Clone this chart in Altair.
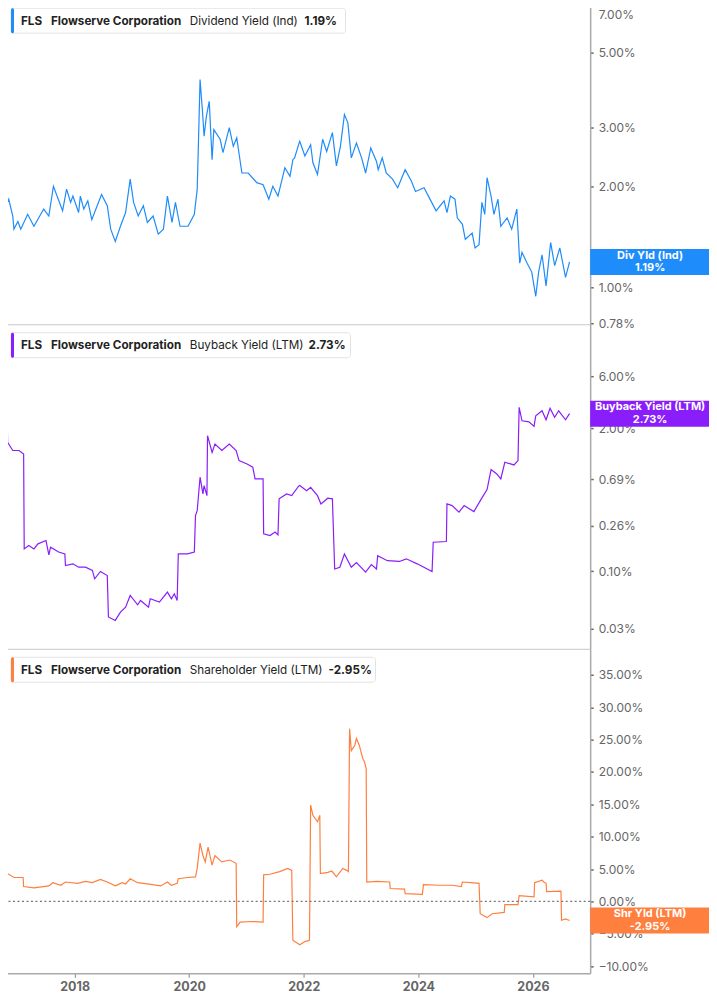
import altair as alt
import pandas as pd

FONT = "Inter"

# ---------------- data ----------------
# Dividend Yield (Ind), %
div_t = [2016.71, 2016.80, 2016.85, 2016.92, 2016.94, 2017.01, 2017.06, 2017.18, 2017.29, 2017.46,
         2017.55, 2017.63, 2017.79, 2017.86, 2017.93, 2017.97, 2018.07, 2018.10, 2018.16, 2018.23,
         2018.30, 2018.47, 2018.57, 2018.63, 2018.71, 2018.80, 2018.89, 2018.97, 2019.03, 2019.11,
         2019.20, 2019.27, 2019.37, 2019.46, 2019.55, 2019.62, 2019.70, 2019.76, 2019.84, 2019.98,
         2020.09, 2020.14, 2020.16, 2020.19, 2020.23, 2020.26, 2020.30, 2020.35, 2020.40, 2020.43,
         2020.54, 2020.59, 2020.70, 2020.77, 2020.83, 2020.92, 2021.03, 2021.18, 2021.29, 2021.39,
         2021.46, 2021.55, 2021.67, 2021.76, 2021.81, 2021.84, 2021.91, 2021.93, 2022.02, 2022.12,
         2022.16, 2022.24, 2022.33, 2022.40, 2022.50, 2022.57, 2022.64, 2022.71, 2022.77, 2022.83,
         2022.92, 2023.01, 2023.08, 2023.17, 2023.27, 2023.30, 2023.37, 2023.44, 2023.55, 2023.64,
         2023.77, 2023.88, 2023.95, 2024.10, 2024.19, 2024.31, 2024.45, 2024.50, 2024.56, 2024.64,
         2024.68, 2024.77, 2024.82, 2024.94, 2024.99, 2025.06, 2025.11, 2025.16, 2025.20, 2025.27,
         2025.32, 2025.39, 2025.44, 2025.55, 2025.63, 2025.72, 2025.77, 2025.81, 2025.90, 2025.98,
         2026.05, 2026.10, 2026.16, 2026.23, 2026.31, 2026.38, 2026.47, 2026.57, 2026.64]
div_v = [1.63, 1.75, 1.83, 1.63, 1.49, 1.57, 1.49, 1.65, 1.52, 1.71,
         1.63, 2.00, 1.69, 1.96, 1.79, 1.87, 1.67, 1.87, 1.71, 1.81,
         1.59, 1.89, 1.75, 1.49, 1.37, 1.52, 1.67, 2.10, 1.79, 1.63,
         1.75, 1.56, 1.63, 1.44, 1.49, 1.87, 1.56, 1.79, 1.52, 1.52,
         1.65, 1.96, 2.63, 4.16, 3.38, 2.82, 3.23, 3.58, 2.40, 2.95,
         2.76, 2.52, 2.99, 2.63, 2.79, 2.19, 2.19, 2.05, 2.02, 1.83,
         2.00, 1.87, 2.27, 2.14, 2.40, 2.43, 2.66, 2.72, 2.46, 2.66,
         2.35, 2.17, 2.76, 2.54, 2.89, 2.30, 2.63, 3.27, 3.09, 2.43,
         2.69, 2.43, 2.19, 2.60, 2.37, 2.24, 2.43, 2.19, 2.10, 1.98,
         2.24, 2.07, 1.93, 1.98, 1.85, 1.69, 1.81, 1.67, 1.87, 1.83,
         1.61, 1.54, 1.39, 1.45, 1.31, 1.34, 1.79, 1.65, 2.12, 1.87,
         1.65, 1.83, 1.52, 1.61, 1.49, 1.71, 1.18, 1.27, 1.18, 1.11,
         0.94, 1.11, 1.25, 1.01, 1.36, 1.16, 1.31, 1.07, 1.19]

# Buyback Yield (LTM), %
bb_t = [2016.71, 2016.78, 2016.82, 2016.83, 2016.92, 2017.03, 2017.11, 2017.12, 2017.20, 2017.29,
        2017.36, 2017.50, 2017.55, 2017.58, 2017.72, 2017.83, 2017.84, 2017.97, 2018.07, 2018.19,
        2018.31, 2018.35, 2018.45, 2018.57, 2018.59, 2018.71, 2018.80, 2018.89, 2018.97, 2019.10,
        2019.15, 2019.29, 2019.32, 2019.48, 2019.62, 2019.69, 2019.74, 2019.79, 2019.81, 2019.97,
        2020.09, 2020.11, 2020.14, 2020.19, 2020.24, 2020.26, 2020.31, 2020.32, 2020.40, 2020.45,
        2020.57, 2020.70, 2020.82, 2020.87, 2021.01, 2021.11, 2021.15, 2021.29, 2021.30, 2021.41,
        2021.50, 2021.55, 2021.57, 2021.70, 2021.79, 2021.91, 2021.93, 2022.05, 2022.12, 2022.24,
        2022.30, 2022.42, 2022.50, 2022.54, 2022.63, 2022.71, 2022.83, 2022.92, 2023.08, 2023.18,
        2023.27, 2023.29, 2023.46, 2023.67, 2023.79, 2023.98, 2024.24, 2024.26, 2024.49, 2024.50,
        2024.59, 2024.71, 2024.80, 2024.97, 2025.10, 2025.20, 2025.27, 2025.37, 2025.44, 2025.51,
        2025.67, 2025.74, 2025.76, 2025.81, 2025.93, 2026.02, 2026.05, 2026.16, 2026.23, 2026.30,
        2026.38, 2026.45, 2026.57, 2026.64]
bb_v = [3.01, 3.27, 3.27, 1.50, 1.26, 1.26, 1.17, 0.160, 0.172, 0.160,
        0.178, 0.191, 0.141, 0.166, 0.150, 0.144, 0.113, 0.117, 0.109, 0.109,
        0.102, 0.0855, 0.0997, 0.0916, 0.0384, 0.0357, 0.0425, 0.0472, 0.0603, 0.0496,
        0.0543, 0.0472, 0.0562, 0.0525, 0.0647, 0.0562, 0.0625, 0.0543, 0.144, 0.144,
        0.150, 0.322, 0.357, 0.720, 0.507, 0.604, 0.489, 1.72, 1.21, 1.44,
        1.26, 1.44, 1.26, 1.02, 0.95, 0.887, 0.694, 0.694, 0.220, 0.212,
        0.228, 0.215, 0.457, 0.507, 0.489, 0.596, 0.604, 0.543, 0.583, 0.489,
        0.411, 0.463, 0.457, 0.105, 0.109, 0.144, 0.109, 0.120, 0.0983, 0.115,
        0.105, 0.139, 0.125, 0.123, 0.130, 0.117, 0.0997, 0.184, 0.187, 0.411,
        0.397, 0.346, 0.397, 0.350, 0.457, 0.555, 0.844, 0.771, 0.694, 0.985,
        0.931, 1.02, 3.12, 2.35, 2.30, 2.09, 2.61, 2.90, 2.40, 3.05,
        2.53, 2.90, 2.40, 2.73]

# Shareholder Yield (LTM), %
shy_t = [2016.71, 2016.76, 2016.80, 2016.83, 2016.94, 2017.10, 2017.11, 2017.29, 2017.55, 2017.62,
         2017.76, 2017.84, 2018.05, 2018.19, 2018.31, 2018.45, 2018.57, 2018.71, 2018.83, 2018.89,
         2018.97, 2019.10, 2019.27, 2019.50, 2019.62, 2019.69, 2019.79, 2019.81, 2019.97, 2020.11,
         2020.14, 2020.19, 2020.24, 2020.28, 2020.33, 2020.40, 2020.45, 2020.57, 2020.71, 2020.82,
         2020.83, 2020.89, 2021.11, 2021.29, 2021.30, 2021.41, 2021.58, 2021.72, 2021.79, 2021.81,
         2021.93, 2022.02, 2022.10, 2022.12, 2022.16, 2022.24, 2022.28, 2022.29, 2022.42, 2022.49,
         2022.57, 2022.68, 2022.75, 2022.78, 2022.80, 2022.83, 2022.89, 2022.92, 2022.97, 2023.03,
         2023.06, 2023.09, 2023.10, 2023.27, 2023.50, 2023.51, 2023.76, 2023.77, 2024.07, 2024.09,
         2024.37, 2024.59, 2024.75, 2024.77, 2024.92, 2025.06, 2025.08, 2025.20, 2025.29, 2025.50,
         2025.51, 2025.74, 2025.76, 2026.02, 2026.03, 2026.16, 2026.19, 2026.23, 2026.24, 2026.49,
         2026.50, 2026.57, 2026.64]
shy_v = [5.6, 5.9, 6.1, 4.3, 3.7, 3.7, 2.3, 2.1, 2.4, 2.9,
         2.5, 3.0, 2.8, 3.1, 2.9, 3.4, 3.0, 2.4, 2.9, 2.7,
         3.5, 2.9, 2.7, 2.4, 3.0, 2.5, 2.8, 3.5, 3.7, 3.8,
         5.1, 9.0, 7.1, 6.1, 8.4, 5.6, 7.1, 6.1, 6.4, 5.9,
         -3.9, -3.2, -3.1, -3.2, 4.1, 4.2, 4.6, 5.1, 4.8, -6.0,
         -6.7, -6.2, -6.0, 14.9, 13.3, 12.3, 13.3, 4.3, 4.5, 4.7,
         3.8, 5.1, 4.8, 4.6, 26.7, 23.3, 24.1, 25.2, 24.1, 22.1,
         21.6, 20.5, 3.0, 3.1, 3.0, 2.0, 1.9, 1.2, 1.1, 2.6,
         2.5, 2.5, 2.3, 3.0, 2.9, 2.8, -1.9, -2.5, -1.9, -1.7,
         -0.5, -0.5, 0.9, 0.7, 2.9, 3.3, 3.0, 2.8, 1.5, 1.6,
         -2.9, -2.7, -2.95]

year_ticks = [2018, 2020, 2022, 2024, 2026]
div_ticks = [7, 5, 3, 2, 1, 0.78]
bb_ticks = [6, 2, 0.69, 0.26, 0.10, 0.03]
shy_ticks = [35, 30, 25, 20, 15, 10, 5, 0, -5, -10]

ticker = "FLS"
company = "Flowserve Corporation"

# ---------------- style ----------------
W = 590          # plot width
H = 325          # each panel height
BADGE_RIGHT = 709
BADGE_TEXT_X = 650
X_DOMAIN = [2016.715, 2027.0]
BLUE = "#1E8CFA"
PURPLE = "#8A1EFA"
ORANGE = "#FF7F3F"
AXIS_GRAY = "#aaaaaa"
LABEL_GRAY = "#666666"

one = pd.DataFrame({"a": [0]})


def y_axis(values, top_nudge=None):
    kw = {}
    if top_nudge is not None:
        kw["labelOffset"] = {"condition": {"test": f"datum.value == {top_nudge[0]}",
                                           "value": top_nudge[1]}, "value": 0}
    return alt.Axis(orient="right", values=values,
                    labelExpr="format(datum.value, '.2f') + '%'",
                    labelFont=FONT, labelFontSize=12, labelColor=LABEL_GRAY,
                    labelPadding=5, labelOverlap=False, labelFlush=False,
                    tickColor="#666666", tickSize=3, tickWidth=1.5,
                    domainColor=AXIS_GRAY, domainWidth=1.5,
                    grid=False, title=None, **kw)


def panel(t, v, color, metric, badge_label, scale, ticks, header_x,
          bottom=False, zero=False, top_nudge=None):
    df = pd.DataFrame({"t": t, "v": v, "i": list(range(len(t)))})
    if bottom:
        xaxis = alt.Axis(values=year_ticks, format="d", labelFont=FONT, labelFontSize=12.5,
                         labelFontWeight="bold", labelColor=LABEL_GRAY, labelPadding=3,
                         tickColor="#999999", tickSize=4, tickWidth=1.2,
                         domainColor=AXIS_GRAY, domainWidth=1.5, grid=False, title=None)
    else:
        xaxis = alt.Axis(labels=False, ticks=False, domainColor="#c8c8c8", domainWidth=1,
                         grid=False, title=None)
    yax = y_axis(ticks, top_nudge)
    X = alt.X("t:Q", scale=alt.Scale(domain=X_DOMAIN, nice=False, zero=False), axis=xaxis)
    Y = alt.Y("v:Q", scale=scale, axis=yax)

    layers = [alt.Chart(df).mark_line(color=color, strokeWidth=1.2, clip=True)
              .encode(x=X, y=Y, order=alt.Order("i:Q"))]
    if zero:
        layers.append(alt.Chart(one).mark_rule(color="#777777", strokeDash=[2, 2.5], strokeWidth=1.3)
                      .encode(y=alt.YDatum(datum=0, scale=scale, axis=yax)))

    last = v[-1]
    ldf = pd.DataFrame({"v": [last], "lab": [badge_label], "val": [f"{last:.2f}%"]})
    layers.append(alt.Chart(ldf).mark_rect(color=color, yOffset=-13, y2Offset=13)
                  .encode(x=alt.value(W), x2=alt.value(BADGE_RIGHT), y=Y, y2=alt.Y2("v:Q")))
    for field, dy in (("lab", -6.2), ("val", 6.2)):
        layers.append(alt.Chart(ldf).mark_text(font=FONT, fontSize=11, fontWeight="bold",
                                               color="white", dy=dy,
                                               align="center", baseline="middle")
                      .encode(x=alt.value(BADGE_TEXT_X), y=Y, text=f"{field}:N"))

    # header box
    fls_x, comp_x, metric_x, val_x, box_r = header_x
    layers.append(alt.Chart(one).mark_rect(fill="white", stroke="#e2e2e2", strokeWidth=1, cornerRadius=3)
                  .encode(x=alt.value(10), x2=alt.value(box_r), y=alt.value(8.5), y2=alt.value(33.5)))
    layers.append(alt.Chart(one).mark_rect(fill=color, cornerRadius=1.5)
                  .encode(x=alt.value(10), x2=alt.value(13), y=alt.value(8.5), y2=alt.value(33.5)))
    texts = [(fls_x, ticker, "bold"), (comp_x, company, "bold"),
             (metric_x, metric, "normal"), (val_x, f"{last:.2f}%", "bold")]
    for xx, txt, fw in texts:
        layers.append(alt.Chart(one).mark_text(font=FONT, fontSize=11.7, fontWeight=fw, color="#222222",
                                               align="left", baseline="middle")
                      .encode(x=alt.value(xx), y=alt.value(21), text=alt.value(txt)))
    return alt.layer(*layers).properties(width=W, height=H)


p1 = panel(div_t, div_v, BLUE, "Dividend Yield (Ind)", "Div Yld (Ind)",
           alt.Scale(type="log", domain=[0.776, 7.19], nice=False), div_ticks,
           (20, 50, 189, 304, 345), top_nudge=(7, 11))
p2 = panel(bb_t, bb_v, PURPLE, "Buyback Yield (LTM)", "Buyback Yield (LTM)",
           alt.Scale(type="log", domain=[0.0197, 17.8], nice=False), bb_ticks,
           (20, 50, 189, 308, 350))
p3 = panel(shy_t, shy_v, ORANGE, "Shareholder Yield (LTM)", "Shr Yld (LTM)",
           alt.Scale(domain=[-11.11, 39.04], nice=False, zero=False), shy_ticks,
           (20, 50, 189, 328, 375), bottom=True, zero=True)

chart = (alt.vconcat(p1, p2, p3, spacing=0, bounds="flush")
         .properties(padding={"left": -8, "top": -9, "right": 0, "bottom": -1}, background="white")
         .configure_view(stroke=None))

chart.save("out.html", embed_options={"renderer": "svg", "actions": False})
